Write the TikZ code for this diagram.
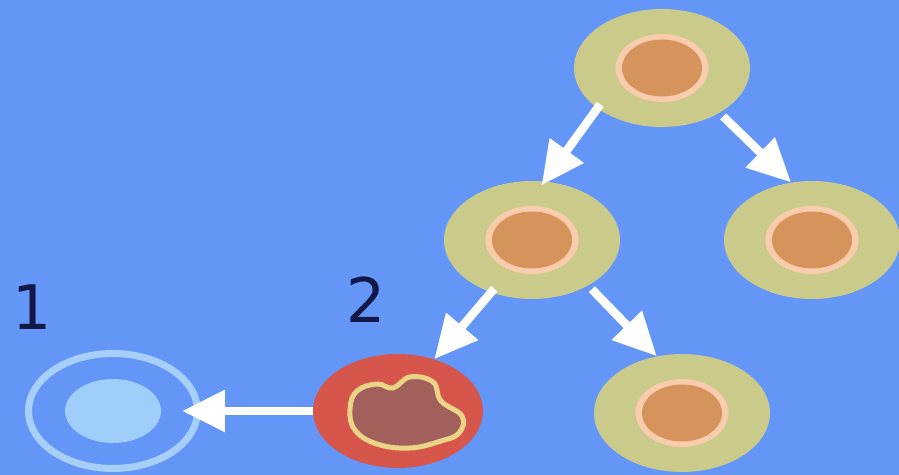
\documentclass[tikz,border=0pt]{standalone}
\usepackage{fontspec}
\setmainfont{DejaVu Sans}
\usetikzlibrary{shapes.geometric, arrows.meta}
\definecolor{bgblue}{RGB}{100,150,248}
\definecolor{cellring}{RGB}{202,202,138}
\definecolor{pinkring}{RGB}{248,204,172}
\definecolor{cellcore}{RGB}{214,148,92}
\definecolor{cellred}{RGB}{214,86,76}
\definecolor{blobfill}{RGB}{162,96,92}
\definecolor{blobline}{RGB}{236,212,135}
\definecolor{deadring}{RGB}{168,206,250}
\definecolor{deadcore}{RGB}{160,206,250}
\definecolor{numblue}{RGB}{18,24,72}

\begin{document}
\begin{tikzpicture}[x=0.02cm, y=0.02cm,
    cell/.style={ellipse, fill=cellring, minimum width=3.52cm, minimum height=2.36cm, inner sep=0pt},
    arr/.style={-{Triangle[length=0.86cm, width=0.8cm]}, white, line width=0.17cm},
    num/.style={text=numblue, font=\fontsize{35}{35}\selectfont}]
    % Background
    \fill[bgblue] (0,0) rectangle (899,475);
    \useasboundingbox (0,0) rectangle (899,475);
    % Healthy cells
    \node[cell] (top) at (662,407) {};
    \node[cell] (midL) at (532,235) {};
    \node[cell] (midR) at (812,235) {};
    \node[cell] (botR) at (682,62) {};
    \foreach \c in {top, midL, midR, botR} {
        \fill[pinkring] (\c) ellipse [x radius=0.93cm, y radius=0.68cm];
        \fill[cellcore] (\c) ellipse [x radius=0.8cm, y radius=0.57cm];
    }
    % Damaged cell
    \node[cell, fill=cellred, minimum width=3.4cm, minimum height=2.28cm] (sick) at (398,64) {};
    \begin{scope}[shift={(405,61)}]
        \draw[blobline, fill=blobfill, line width=0.1cm] plot[smooth cycle, tension=0.7] coordinates
            {(-55,5) (-48,23) (-28,30) (-12,26) (5,37) (28,32) (36,13) (57,-2)
             (54,-19) (36,-27) (5,-34) (-28,-30) (-50,-16)};
    \end{scope}
    % Dead cell
    \node[ellipse, draw=deadring, line width=0.14cm, minimum width=3.38cm, minimum height=2.3cm, inner sep=0pt] (dead) at (113,64) {};
    \fill[deadcore] (dead) ellipse [x radius=0.96cm, y radius=0.64cm];
    % Numbers
    \node[num] (one) at (32,168) {1};
    \node[num] (two) at (366,175) {2};
    % Arrows
    \draw[arr, shorten <=-0.1cm, shorten >=-0.1cm] (top.212) -- (midL.78);
    \draw[arr, shorten <=0.1cm] (top.322) -- (midR.110);
    \draw[arr, shorten <=-0.1cm] (midL.232) -- (sick.55);
    \draw[arr, shorten <=0.1cm] (midL.321) -- (botR.114);
    \draw[arr, shorten >=-0.38cm] (sick.west) -- (dead.east);
\end{tikzpicture}
\end{document}
